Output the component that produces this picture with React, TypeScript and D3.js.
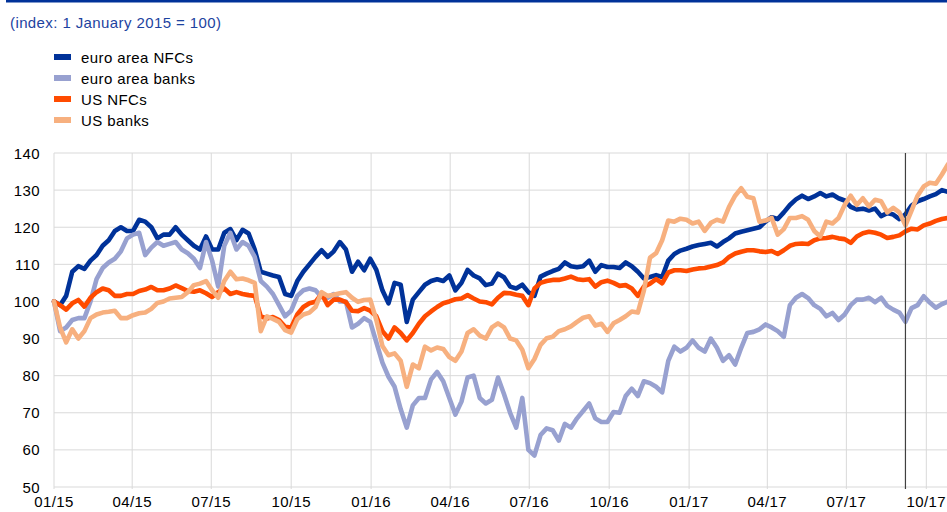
import React from 'react';
import * as d3 from 'd3';

// weekly observations from 1 Jan 2015 (index: 1 January 2015 = 100)
const euroNfc = [
  100, 99, 101.5, 108, 109.5, 108.8, 111, 112.5, 115, 116.5,
  119, 120, 119, 119, 122, 121.5, 120, 117, 118, 118,
  120, 118, 116.5, 115, 114, 117.5, 114, 114, 118.5, 119.5,
  116.5, 119.3, 118.3, 114, 108, 107.5, 107, 106.6, 102, 101.5,
  105.5, 108, 110, 112, 113.8, 112, 113.5, 116, 114, 108,
  110.7, 108.4, 111.5, 108.5, 103, 99.5, 105, 104.5, 94.5, 100.5,
  102.5, 104.5, 105.5, 106, 105.5, 107, 103, 105, 108.5, 107,
  106.2, 104.4, 104.8, 107.5, 106.5, 104, 103.5, 104.5, 102.5, 101.5,
  106.7, 107.5, 108.2, 108.8, 110.5, 109.5, 109.2, 109.5, 111, 108,
  109.8, 109.3, 109.3, 109, 110.5, 109.5, 108, 106.2, 106.6, 107.1,
  106.6, 111, 112.8, 113.7, 114.2, 114.8, 115.2, 115.5, 115.8, 114.8,
  116, 117, 118.3, 118.8, 119.2, 119.6, 120, 121.5, 122.7, 122.2,
  124, 126, 127.5, 128.5, 127.6, 128.3, 129.2, 128.3, 128.8, 127.8,
  127.2, 125.5, 124.8, 125, 124.5, 125, 123, 123.8, 123.4, 122.2,
  123.5, 125.8, 127, 127.6, 128.3, 128.9, 130, 129.5,
];

const euroBanks = [
  100, 92, 93, 95, 95.5, 95.5, 100, 106, 109, 110.5,
  111.5, 113.5, 117, 118, 118.5, 112.5, 114.5, 116, 115, 115.5,
  116, 114, 113, 111.5, 109, 116, 111, 104, 115, 118.5,
  114, 116, 115, 112, 105.5, 104, 102, 99, 96, 97.5,
  101.5, 103, 103.5, 103, 101.2, 101, 102, 100, 100, 93,
  94, 95.5, 94.5, 89, 83.5, 79.7, 77, 71, 66, 72,
  74, 74, 79, 81, 78.5, 74, 69.5, 73, 79.5, 80,
  74, 72.5, 73.5, 79.5, 75, 70, 66, 74, 60, 58.5,
  64, 65.8, 65.3, 62.5, 67, 66, 68.5, 70.5, 72.5, 68.5,
  67.5, 67.5, 70.2, 70, 74.5, 76.5, 74.5, 78.5, 78, 77,
  75.5, 84, 87.8, 86.5, 87.5, 89.5, 87.5, 86.5, 90, 87.5,
  84, 85.5, 83, 87.5, 91.5, 91.8, 92.5, 93.8, 93, 92,
  90.5, 99, 101, 102, 100.9, 99, 98, 96, 96.9, 95,
  96.5, 99, 100.5, 100.5, 101, 99.8, 101, 98.8, 97.8, 97,
  94.5, 98.2, 99, 101.4, 99.7, 98.3, 99.3, 100,
];

const usNfc = [
  100, 99, 97.8, 99.5, 100.4, 98.6, 101, 102.5, 103.5, 103,
  101.5, 101.5, 102, 102, 102.8, 103.2, 103.9, 103, 103, 103.5,
  104.3, 103.6, 102.8, 102.6, 103, 102.2, 101.2, 102.5, 103.5, 102,
  102.5, 102, 101.7, 101.5, 96, 95.4, 95.8, 95, 93.2, 93,
  96.5, 98.5, 99.5, 99.9, 102, 99, 100.5, 100.5, 99.8, 97.5,
  97.4, 98.2, 97.5, 96, 92, 90, 93, 91.5, 89.5, 91.5,
  94, 96, 97.3, 98.5, 99.5, 100, 100.6, 100.8, 101.7, 100.8,
  100, 99.8, 99.2, 101, 102.3, 102.2, 101.8, 101.5, 99, 103.5,
  105, 105.5, 105.8, 105.8, 106.2, 106.7, 106, 105.8, 106, 104,
  105.2, 105.6, 105, 104.2, 104.4, 103.5, 101.5, 104, 104.8, 106,
  104.9, 107.8, 108.4, 108.4, 108.2, 108.6, 108.9, 109, 109.4, 109.8,
  110.5, 112, 112.9, 113.4, 113.8, 113.8, 113.5, 113.3, 113.6, 112.8,
  113.8, 115, 115.5, 115.6, 115.5, 116.5, 117, 117.1, 117.4, 117,
  116.8, 115.8, 117.5, 118.4, 118.8, 118.5, 118, 117.1, 117.4, 117.8,
  118.9, 119.6, 119.4, 120.5, 121, 121.7, 122.2, 122.5,
];

const usBanks = [
  100, 93, 89, 92.5, 90, 92, 95.5, 96.5, 97, 97.2,
  97.5, 95.5, 95.5, 96.3, 96.8, 97, 98, 99.6, 100, 100.8,
  101, 101.2, 102.5, 104.4, 104.8, 105.5, 103, 101, 105.5, 108,
  106, 106.2, 105.7, 105, 92, 96, 95.3, 94.5, 92.3, 91.6,
  95.2, 96.5, 97, 98.5, 102.5, 101.5, 101.8, 102.2, 102.5, 101,
  99.9, 100.4, 100.5, 95, 88, 85.5, 86, 84, 77, 83,
  82, 87.8, 86.8, 87.6, 87.2, 85, 84, 86.5, 91.5, 92.5,
  90.8, 90, 93, 94.1, 93, 90, 89.5, 87, 82, 84.5,
  88.3, 90.1, 90.5, 92, 92.5, 93.3, 94.5, 95.6, 96, 93.5,
  94, 91.8, 94.1, 95, 96, 97.3, 97, 103, 111.8, 113,
  116.5, 121.8, 121.5, 122.3, 122, 121, 121.5, 119, 121.2, 122,
  121.5, 125.5, 128.5, 130.5, 128.2, 127.8, 121.5, 121.8, 122.5, 118,
  119.5, 122.5, 122.5, 123, 122, 119, 117.5, 121.5, 121, 122.5,
  126, 128.5, 126, 127.8, 125.6, 127.4, 127, 124, 125.2, 124,
  120.5, 124.5, 128.5, 131, 132, 131.7, 134.2, 137,
];

const seriesNames = ['euro area NFCs', 'euro area banks', 'US NFCs', 'US banks'];
const seriesColors = ['#003299', '#98a1d0', '#ff4b00', '#f7b07f'];
const yTicks = [50, 60, 70, 80, 90, 100, 110, 120, 130, 140];
const markerDate = new Date(2017, 8, 7);

const W = 947;
const H = 512;
const font = "Arial, 'Liberation Sans', sans-serif";
const textStyle = { fontFamily: font, fontSize: 15, letterSpacing: 0.4 };

export default function App() {
  const start = new Date(2015, 0, 1);
  const dates = euroNfc.map((_, i) => d3.timeDay.offset(start, 7 * i));

  const x = d3.scaleTime()
    .domain([new Date(2015, 0, 1), new Date(2017, 9, 1)])
    .range([54, 926.3]);
  const y = d3.scaleLinear().domain([50, 140]).range([487, 153]);

  const xTicks = d3.timeMonth.every(3)!.range(new Date(2015, 0, 1), new Date(2017, 9, 2));
  const fmt = d3.timeFormat('%m/%y');

  const line = d3.line<number>()
    .x((_, i) => x(dates[i]))
    .y(d => y(d));

  const allSeries = [euroNfc, euroBanks, usNfc, usBanks];

  return (
    <svg width={W} height={H} style={{ position: 'absolute', left: 0, top: 0, background: '#fff' }}>
      <rect x={6} y={0} width={W - 6} height={2.5} fill="#003299" />
      <text x={10} y={28} style={textStyle} fill="#1d43a0">
        (index: 1 January 2015 = 100)
      </text>

      {seriesNames.map((name, i) => (
        <g key={name} transform={`translate(0, ${57 + i * 21})`}>
          <rect x={54} y={-3} width={17} height={6} fill={seriesColors[i]} />
          <text x={81} y={5.5} style={textStyle} fill="#000">{name}</text>
        </g>
      ))}

      {/* grid */}
      {yTicks.map(t => (
        <g key={t}>
          <line x1={54} x2={W} y1={y(t)} y2={y(t)} stroke="#d9d9d9" strokeWidth={1} />
          <text x={40} y={y(t) + 5.5} textAnchor="end" style={textStyle} fill="#000">{t}</text>
        </g>
      ))}
      {xTicks.map(t => (
        <g key={t.getTime()}>
          <line x1={x(t)} x2={x(t)} y1={y(140)} y2={y(50) + 2} stroke="#d9d9d9" strokeWidth={1} />
          <text x={x(t)} y={507} textAnchor="middle" style={textStyle} fill="#000">{fmt(t)}</text>
        </g>
      ))}

      {allSeries.map((s, i) => (
        <path key={i} d={line(s) || ''} fill="none" stroke={seriesColors[i]}
          strokeWidth={4.6} strokeLinejoin="round" strokeLinecap="round" />
      ))}

      <line x1={x(markerDate)} x2={x(markerDate)} y1={y(140)} y2={y(50) + 2} stroke="#404040" strokeWidth={1.2} />
    </svg>
  );
}
